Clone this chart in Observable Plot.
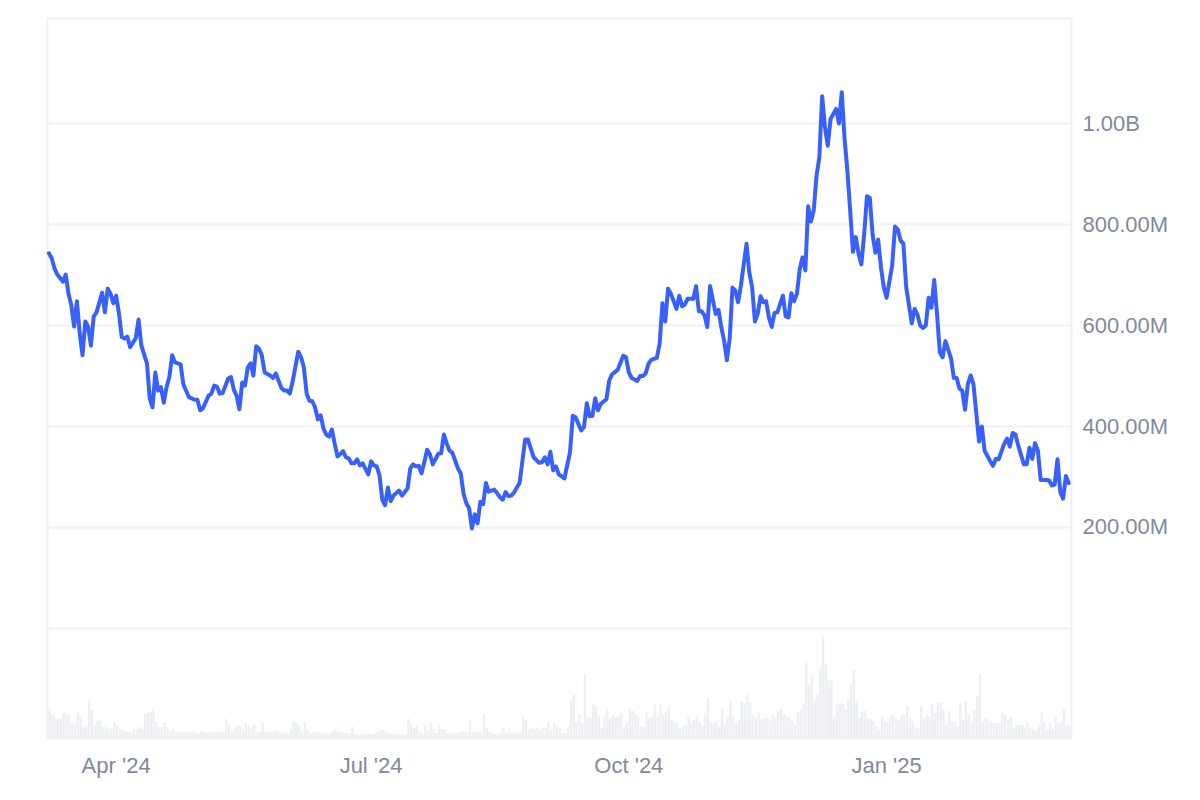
<!DOCTYPE html>
<html>
<head>
<meta charset="utf-8">
<style>html,body{margin:0;padding:0;background:#fff;overflow:hidden}svg{display:block}</style>
<script src="https://cdn.jsdelivr.net/npm/d3@7"></script>
<script src="https://cdn.jsdelivr.net/npm/@observablehq/plot@0.6"></script>
</head>
<body>
<div id="chart"></div>
<script>
// Series starts 7 Mar 2024; offsets are days after that date.
const priceDays = [1,2,3,4,6,7,8,9,10,11,12,13,14,15,16,17,18,20,21,22,23,24,25,26,27,28,29,30,32,33,34,36,37,38,39,40,41,42,43,44,45,46,48,49,51,53,54,55,56,58,59,60,61,62,63,65,66,67,68,69,70,71,72,73,74,75,76,77,78,80,81,82,84,85,86,87,88,90,91,92,93,94,95,96,97,98,99,100,101,102,103,104,105,106,107,108,109,110,111,112,113,115,116,117,118,119,120,121,122,123,124,126,127,129,130,131,132,133,134,135,136,137,138,140,141,142,143,144,145,147,148,149,150,151,152,153,154,155,156,157,158,160,162,163,164,165,166,167,169,171,172,174,176,177,178,179,180,181,182,183,185,187,188,189,191,192,193,194,195,196,197,198,200,201,202,204,206,207,208,209,211,212,213,214,215,216,218,219,220,221,222,223,225,226,227,228,229,231,232,233,234,235,236,237,239,240,241,242,243,244,245,246,247,248,250,251,252,253,254,255,256,257,258,259,260,261,263,264,265,266,267,268,269,270,271,272,273,274,275,276,277,278,279,280,282,283,284,285,286,287,288,289,290,291,292,293,294,295,296,297,298,299,300,302,303,304,305,306,307,309,310,311,312,313,314,315,316,317,318,319,320,321,323,324,325,326,327,328,329,330,331,333,334,335,337,338,339,340,342,343,344,345,346,347,349,350,351,352,353,354,355,357,358,359,360,361,362,363,364,365];
const priceValues = [743,733,713,701,687,701,663,640,598,648,584,541,608,597,560,618,626,665,626,673,663,644,659,624,577,574,578,557,575,612,560,525,455,438,507,471,478,447,478,498,541,527,523,483,458,453,453,432,436,461,465,481,479,465,466,495,498,473,461,434,487,481,517,525,501,559,554,541,507,501,496,505,476,471,471,465,489,548,537,517,465,451,450,438,414,422,396,384,380,394,366,341,345,351,339,337,327,327,335,323,327,305,331,323,321,303,255,244,279,252,263,273,263,277,317,325,321,322,307,329,354,345,325,346,347,384,366,352,348,317,307,267,248,238,198,226,208,251,246,288,271,275,260,255,270,262,263,269,288,374,374,339,328,329,339,325,350,313,321,305,297,349,421,418,392,399,446,420,421,456,432,445,454,491,503,512,540,537,507,496,490,500,500,505,524,532,536,564,644,608,673,663,633,659,638,642,653,653,678,628,628,620,597,678,623,631,597,570,531,574,675,669,646,679,762,705,676,608,623,658,646,648,616,597,625,626,659,618,616,664,648,663,712,735,709,836,806,828,897,933,1054,993,956,1009,1029,1000,1062,970,907,828,746,775,742,721,781,856,853,780,744,770,715,676,655,719,796,790,768,762,676,604,633,622,600,595,600,655,635,690,623,547,537,569,535,496,496,475,471,433,484,501,484,370,400,352,331,322,336,335,366,376,360,387,384,362,325,325,358,336,367,352,294,294,293,283,285,335,270,257,302,288];

// Daily volume, one value per day from the start date.
const volumeValues = [
61,55,45,38,38,38,50,46,45,30,28,50,42,22,25,75,55,25,35,35,22,26,18,20,30,25,18,15,13,12,11,18,17,22,18,48,50,51,58,32,22,22,30,22,12,18,13,11,11,10,
11,12,13,11,9,13,12,11,11,12,12,12,13,12,
38,25,15,20,26,23,17,30,23,20,26,13,13,30,13,11,12,13,15,13,10,11,9,18,34,30,26,13,30,17,10,11,12,11,9,9,9,9,13,18,13,12,10,10,9,22,8,7,7,7,8,9,7,8,
13,17,16,12,10,7,7,7,7,7,7,
38,28,20,24,13,10,25,17,30,18,10,26,18,17,10,8,9,9,11,13,11,13,34,12,11,13,12,46,20,13,8,8,9,11,21,12,15,11,10,9,12,43,36,18,20,18,20,17,21,20,33,17,30,23,20,10,10,23,
76,86,33,48,30,125,41,40,66,63,43,20,43,56,40,45,40,43,50,23,30,58,54,48,43,23,23,51,40,43,66,43,66,46,53,61,36,33,30,20,23,26,43,30,36,43,30,23,50,78,30,30,34,23,59,26,40,
73,43,30,36,73,69,86,71,45,40,50,38,41,40,34,45,41,53,58,46,43,41,33,26,50,56,69,153,106,125,76,86,139,201,145,114,114,43,66,69,69,56,76,106,134,74,40,53,54,40,38,34,23,17,43,33,30,43,46,40,36,43,46,63,40,33,20,20,63,40,46,43,66,50,69,69,56,26,53,33,33,23,69,36,73,46,30,56,83,125,33,40,36,33,30,30,30,50,46,36,40,20,26,26,26,20,30,20,17,13,26,50,33,17,30,17,43,30,33,56,26,26
];

const priceTicks = [200,400,600,800,1000];
const priceTickLabels = ["200.00M","400.00M","600.00M","800.00M","1.00B"];
const dateTicks = ["2024-04-01","2024-07-01","2024-10-01","2025-01-01"];
const dateTickLabels = ["Apr '24","Jul '24","Oct '24","Jan '25"];

const DAY = 86400000;
const startTime = Date.UTC(2024, 2, 7);
const dayToDate = d => new Date(startTime + d * DAY);

const price = priceDays.map((d, i) => ({date: dayToDate(d), value: priceValues[i]}));
// The volume pane sits below the zero line of the shared axis.
const paneFloor = -218;
const paneTop = 1208;
const volume = volumeValues.map((v, i) => ({
  x1: dayToDate(i), x2: dayToDate(i + 1), y1: paneFloor, y2: paneFloor + v
}));

const tickDates = dateTicks.map(s => new Date(s + "T00:00:00Z"));
const labelOfDate = d => dateTickLabels[tickDates.findIndex(t => +t === +d)];
const labelOfPrice = v => priceTickLabels[priceTicks.indexOf(v)];

const GRID = "#eff2f5", TEXT = "#808a9d", LINE = "#3861fb";
const xDomain = [dayToDate(0.5), dayToDate(366)];

const chart = Plot.plot({
  width: 1200, height: 800,
  marginLeft: 47, marginRight: 129, marginTop: 18, marginBottom: 62,
  style: {fontFamily: "'Liberation Sans', Arial, sans-serif", background: "#fff"},
  x: {type: "utc", domain: xDomain, label: null},
  y: {domain: [paneFloor, paneTop], label: null},
  marks: [
    Plot.ruleY([...priceTicks, 0, paneTop, paneFloor], {stroke: GRID, strokeWidth: 2}),
    Plot.rectY(volume, {x1: "x1", x2: "x2", y1: "y1", y2: "y2", fill: "#edf0f3", insetLeft: 0.2, insetRight: 0.2, clip: true}),
    Plot.ruleX(xDomain, {stroke: GRID, strokeWidth: 2}),
    Plot.lineY(price, {x: "date", y: "value", stroke: LINE, strokeWidth: 4, strokeLinejoin: "round", strokeLinecap: "round"}),
    Plot.axisY(priceTicks, {anchor: "right", tickSize: 0, tickPadding: 11, tickFormat: labelOfPrice, fontSize: 22, fill: TEXT, label: null}),
    Plot.axisX(tickDates, {anchor: "bottom", tickSize: 0, tickPadding: 19, tickFormat: labelOfDate, fontSize: 22, fill: TEXT, label: null})
  ]
});
document.getElementById("chart").appendChild(chart);
</script>
</body>
</html>
